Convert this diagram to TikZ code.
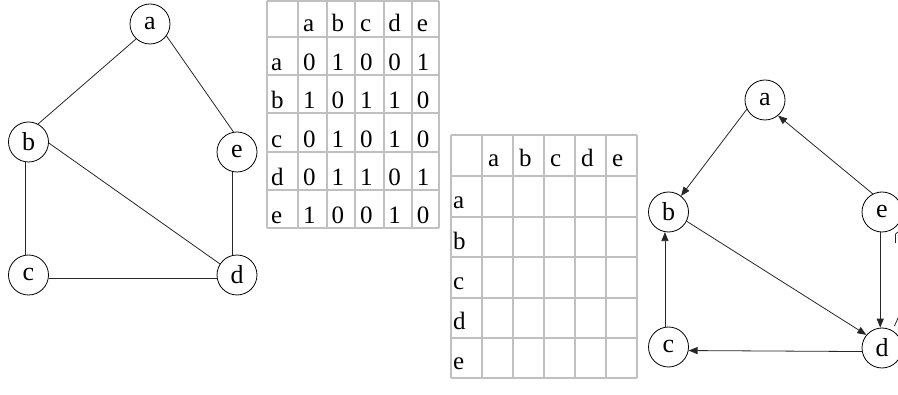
\documentclass[tikz,border=0pt]{standalone}
\usepackage{fontspec}
\setmainfont{Liberation Serif}
\usetikzlibrary{arrows.meta}
\definecolor{tablegray}{RGB}{192,192,192}
\begin{document}
\begin{tikzpicture}[x=1pt,y=-1pt,
  vert/.style={circle,draw,line width=0.8pt,minimum size=40pt,inner sep=0pt,font=\fontsize{26}{30}\selectfont},
  edge/.style={line width=0.8pt,draw=black!85},
  arc/.style={line width=0.8pt,draw=black!85,-{Triangle[length=9pt,width=7pt]}},
  cell/.style={anchor=base west,inner sep=0pt,font=\fontsize{25}{30}\selectfont},
  gridline/.style={draw=tablegray,line width=1.6pt}]
\useasboundingbox (0,0) rectangle (898,395);

% ---------- left undirected graph ----------
\node[vert] (a) at (150,24) {a};
\node[vert] (b) at (28.5,142) {b};
\node[vert] (e) at (237,152) {e};
\node[vert] (c) at (28.5,275) {c};
\node[vert] (d) at (237,275) {d};
\draw[edge] (a.227) -- (b.62);
\draw[edge] (a.324) -- (e.100);
\draw[edge] (b.357) -- (d.147);
\draw[edge] (b.260) -- (c.100);
\draw[edge] (e.258) -- (d.102);
\draw[edge] (c.-9) -- (d.189);

% ---------- table 1 ----------
\foreach \xx in {267,298,327,355,384,412,439} \draw[gridline] (\xx,1) -- (\xx,228);
\foreach \yy in {1,37,75,113,152,190,228} \draw[gridline] (267,\yy) -- (439,\yy);
\foreach \l [count=\c] in {a,b,c,d,e}
  \node[cell] (t1h\c) at ({298+28.4*(\c-1)+5},32) {\l};
\foreach \l/\yb/\vals [count=\r] in {a/71/{0,1,0,0,1},b/109/{1,0,1,1,0},c/148/{0,1,0,1,0},d/186/{0,1,1,0,1},e/224/{1,0,0,1,0}}{
  \node[cell] (t1r\r) at (271,\yb) {\l};
  \foreach \v [count=\c] in \vals
    \node[cell] (t1v\r\c) at ({298+28.4*(\c-1)+5},\yb) {\v};
}

% ---------- table 2 ----------
\foreach \xx in {451,482,513,544,575,606,637} \draw[gridline] (\xx,135) -- (\xx,378);
\foreach \yy in {135,176,217,257,298,338,378} \draw[gridline] (451,\yy) -- (637,\yy);
\foreach \l [count=\c] in {a,b,c,d,e}
  \node[cell] (t2h\c) at ({482+31*(\c-1)+6},167) {\l};
\foreach \l/\yb [count=\r] in {a/209,b/250,c/290,d/330,e/370}
  \node[cell] (t2r\r) at (453,\yb) {\l};

% ---------- right directed graph ----------
\node[vert] (A) at (765,100) {a};
\node[vert] (B) at (668.5,212) {b};
\node[vert] (E) at (882,212) {e};
\node[vert] (C) at (668.5,347) {c};
\node[vert] (D) at (882,348) {d};
\draw[arc] (A.207) -- (B.52);
\draw[arc] (E.117) -- (A.310);
\draw[arc] (B.333) -- (D.140);
\draw[arc] (E.265) -- (D.95);
\draw[arc] (D.190) -- (C.-10);
\draw[arc] (C.100) -- (B.260);

% clipped fragments at the right edge
\coordinate (f1) at (895.5,234);
\coordinate (f2) at (895.5,243);
\coordinate (f3) at (898,232);
\coordinate (f4) at (894.5,326);
\coordinate (f5) at (898,318);
\draw[edge,line width=1.2pt] (f1) -- (f2);
\draw[edge] (f1) -- (f3);
\draw[edge] (f4) -- (f5);
\end{tikzpicture}
\end{document}
